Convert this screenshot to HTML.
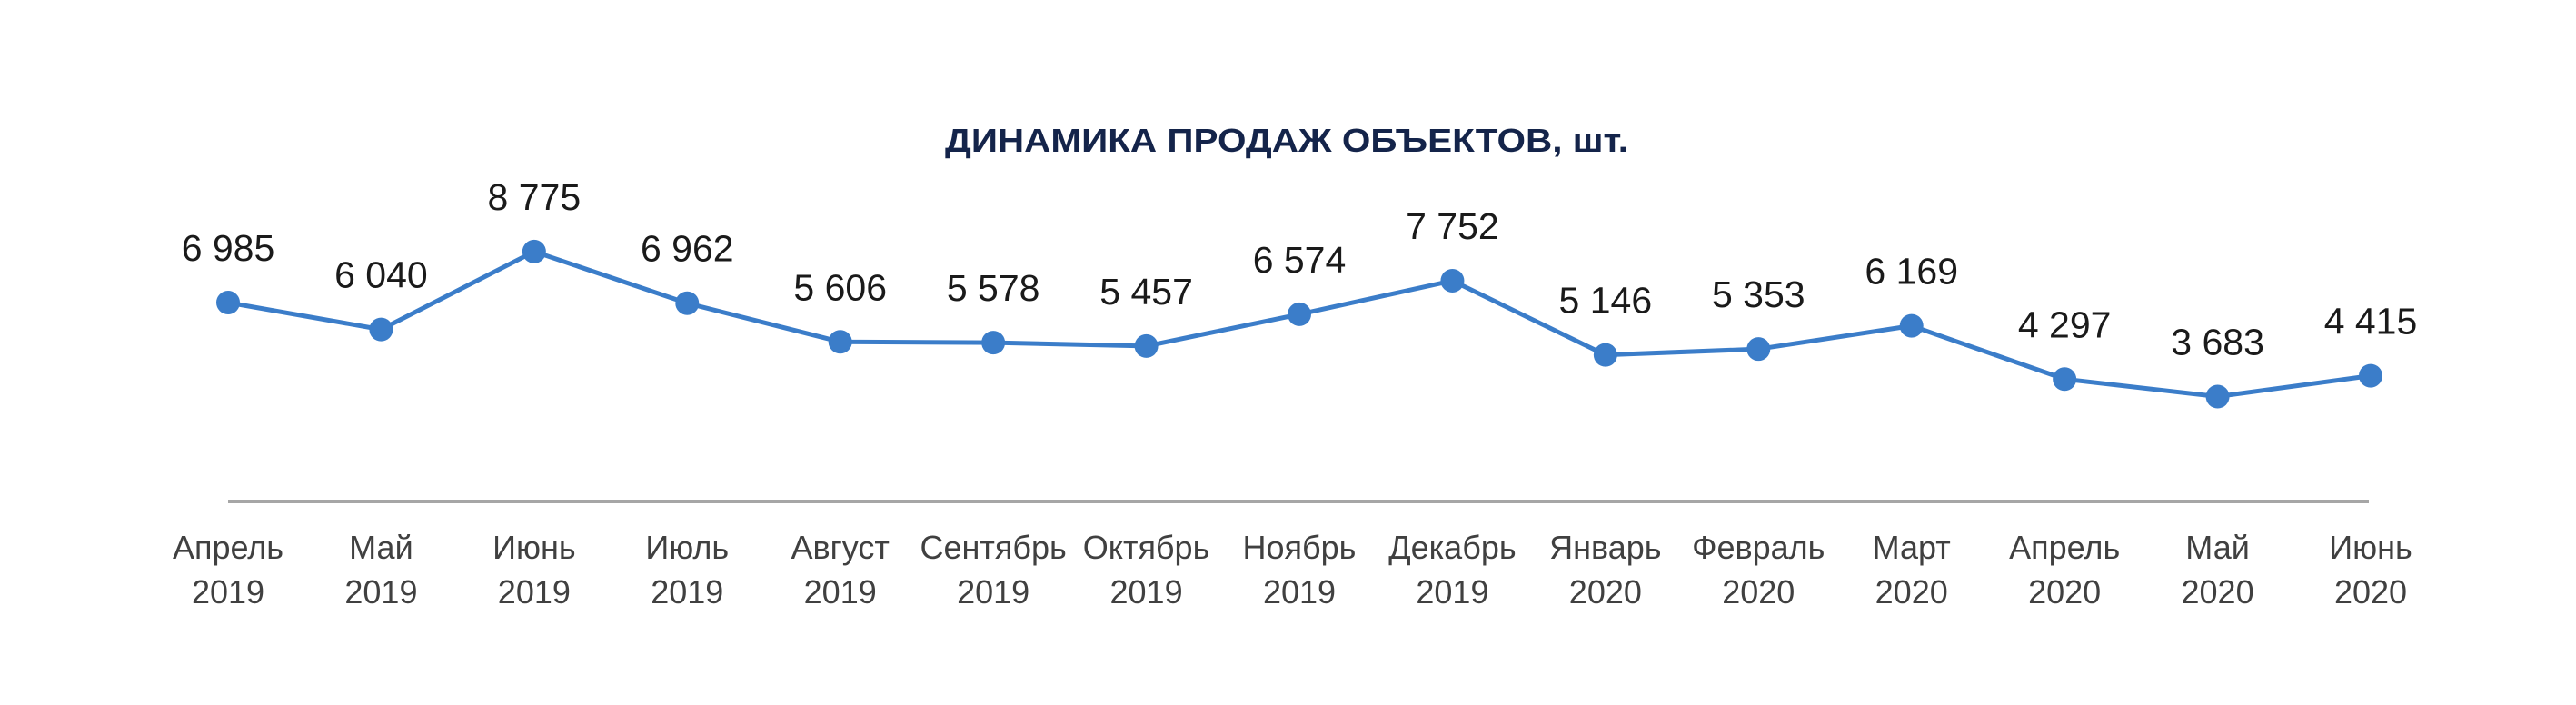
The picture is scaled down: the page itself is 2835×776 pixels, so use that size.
<!DOCTYPE html>
<html><head><meta charset="utf-8"><style>
html,body{margin:0;padding:0;background:#fff;}
svg{display:block;font-family:"Liberation Sans","DejaVu Sans",sans-serif;}
</style></head><body>
<svg id="chart" width="2835" height="776" viewBox="0 0 2835 776" xmlns="http://www.w3.org/2000/svg">
<rect width="2835" height="776" fill="#fff"/>
<text x="1416" y="167" text-anchor="middle" font-size="36" font-weight="bold" fill="#14244a" textLength="752" lengthAdjust="spacingAndGlyphs">ДИНАМИКА ПРОДАЖ ОБЪЕКТОВ, шт.</text>
<line x1="251" y1="552" x2="2607" y2="552" stroke="#a6a6a6" stroke-width="4"/>
<g id="series"></g>
<g id="labels"></g>
<g id="xlabels"></g>
</svg>
<script>
const months = ["Апрель","Май","Июнь","Июль","Август","Сентябрь","Октябрь","Ноябрь","Декабрь","Январь","Февраль","Март","Апрель","Май","Июнь"];
const years = ["2019","2019","2019","2019","2019","2019","2019","2019","2019","2020","2020","2020","2020","2020","2020"];
const sales = [6985,6040,8775,6962,5606,5578,5457,6574,7752,5146,5353,6169,4297,3683,4415];
const valueLabels = ["6 985","6 040","8 775","6 962","5 606","5 578","5 457","6 574","7 752","5 146","5 353","6 169","4 297","3 683","4 415"];

const NS = "http://www.w3.org/2000/svg";
const x0 = 251, x1 = 2609, yBase = 552, yScale = 0.03135;
function xPos(i){ return x0 + i*(x1-x0)/(months.length-1); }
function yPos(v){ return yBase - v*yScale; }

const series = document.getElementById("series");
const pts = sales.map((v,i)=>xPos(i)+","+yPos(v)).join(" ");
const line = document.createElementNS(NS,"polyline");
line.setAttribute("points", pts);
line.setAttribute("fill","none");
line.setAttribute("stroke","#3b7dc9");
line.setAttribute("stroke-width","5");


series.appendChild(line);

const labels = document.getElementById("labels");
const xl = document.getElementById("xlabels");
sales.forEach((v,i)=>{
  const c = document.createElementNS(NS,"circle");
  c.setAttribute("cx", xPos(i));
  c.setAttribute("cy", yPos(v));
  c.setAttribute("r", "13");
  c.setAttribute("fill", "#3b7dc9");
  
  
  series.appendChild(c);

  const t = document.createElementNS(NS,"text");
  t.setAttribute("x", xPos(i));
  t.setAttribute("y", yPos(v) - 46);
  t.setAttribute("text-anchor","middle");
  t.setAttribute("font-size","41");
  t.setAttribute("fill","#1a1a1a");
  t.textContent = valueLabels[i];
  
  
  labels.appendChild(t);

  const m = document.createElementNS(NS,"text");
  m.setAttribute("x", xPos(i));
  m.setAttribute("y", 615);
  m.setAttribute("text-anchor","middle");
  m.setAttribute("font-size","36");
  m.setAttribute("fill","#404040");
  m.textContent = months[i];
  
  
  xl.appendChild(m);

  const y = document.createElementNS(NS,"text");
  y.setAttribute("x", xPos(i));
  y.setAttribute("y", 664);
  y.setAttribute("text-anchor","middle");
  y.setAttribute("font-size","36");
  y.setAttribute("fill","#404040");
  y.textContent = years[i];
  
  
  xl.appendChild(y);
});
</script>
</body></html>
